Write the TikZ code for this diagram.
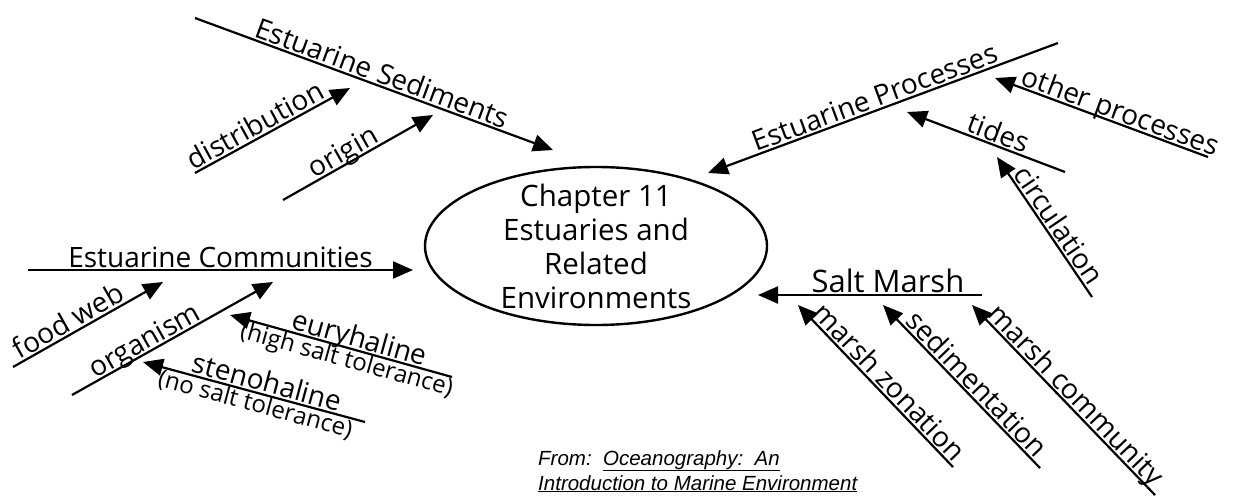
\documentclass[tikz,border=0pt]{standalone}
\usepackage{fontspec}
\setmainfont{Open Sans}
\newfontfamily\footfont{Liberation Sans}
\usetikzlibrary{arrows.meta,shapes.geometric}
\begin{document}
\begin{tikzpicture}[x=1pt,y=-1pt,
  conn/.style={line width=2.2pt},
  arr/.style={conn,-{Triangle[length=20pt,width=17pt]}},
  rarr/.style={conn,{Triangle[length=20pt,width=17pt]}-},
  lab/.style={font=\fontsize{28}{32}\selectfont, sloped, above, inner xsep=0pt, inner ysep=3pt, text depth=0pt, outer sep=0pt},
  sub/.style={font=\fontsize{24}{28}\selectfont, sloped, below, inner xsep=0pt, inner ysep=1pt, outer sep=0pt},
  foot/.style={font=\footfont\itshape\fontsize{20.5}{24}\selectfont, anchor=base west, inner sep=0pt},
]
\path[use as bounding box] (0,0) rectangle (1236,498);

% central topic
\node[draw, ellipse, line width=2.4pt, minimum width=342pt, minimum height=158pt, inner sep=0pt] (core) at (596,246) {};
\node[font=\fontsize{29.5}{34}\selectfont, align=center] (title) at (596,246) {Chapter 11\\Estuaries and\\Related\\Environments};

% Estuarine Sediments
\coordinate (sedS) at (195,18);   \coordinate (sedT) at (553,150);
\draw[arr] (sedS) -- node[lab,pos=0.51] (lsed) {Estuarine Sediments} (sedT);
\coordinate (disS) at (195,173);  \coordinate (disT) at (350,88);
\draw[arr] (disS) -- node[lab,pos=0.43] (ldis) {distribution} (disT);
\coordinate (oriS) at (283,200);  \coordinate (oriT) at (433,115);
\draw[arr] (oriS) -- node[lab,pos=0.44] (lori) {origin} (oriT);

% Estuarine Processes
\coordinate (proT) at (708,173);  \coordinate (proS) at (1058,43);
\draw[rarr] (proT) -- node[lab,pos=0.49] (lpro) {Estuarine Processes} (proS);
\coordinate (othT) at (995,78);   \coordinate (othS) at (1208,157);
\draw[rarr] (othT) -- node[lab,pos=0.57] (loth) {other processes} (othS);
\coordinate (tidT) at (907,112);  \coordinate (tidS) at (1065,172);
\draw[rarr] (tidT) -- node[lab,pos=0.55] (ltid) {tides} (tidS);
\coordinate (cirT) at (997,157);  \coordinate (cirS) at (1092,297);
\draw[rarr] (cirT) -- node[lab,pos=0.54] (lcir) {circulation} (cirS);

% Estuarine Communities
\coordinate (comS) at (28,270);   \coordinate (comT) at (413,270);
\draw[arr] (comS) -- node[lab,pos=0.5] (lcom) {Estuarine Communities} (comT);
\coordinate (fooS) at (13,367);   \coordinate (fooT) at (163,282);
\draw[arr] (fooS) -- node[lab,pos=0.41] (lfoo) {food web} (fooT);
\coordinate (orgS) at (72,395);   \coordinate (orgT) at (273,282);
\draw[arr] (orgS) -- node[lab,pos=0.39] (lorg) {organism} (orgT);
\coordinate (eurT) at (230,315);  \coordinate (eurS) at (452,377);
\draw[rarr] (eurT) -- node[lab,pos=0.57] (leur) {euryhaline} node[sub,pos=0.54] (leur2) {(high salt tolerance)} (eurS);
\coordinate (steT) at (143,362);  \coordinate (steS) at (365,422);
\draw[rarr] (steT) -- node[lab,pos=0.545] (lste) {stenohaline} node[sub,pos=0.52] (lste2) {(no salt tolerance)} (steS);

% Salt Marsh
\coordinate (salT) at (758,295);  \coordinate (salS) at (982,295);
\draw[rarr] (salT) -- node[lab,pos=0.58,font=\fontsize{31}{34}\selectfont] (lsal) {Salt Marsh} (salS);
\coordinate (zonT) at (798,305);  \coordinate (zonS) at (953,467);
\draw[rarr] (zonT) -- node[lab,pos=0.53] (lzon) {marsh zonation} (zonS);
\coordinate (sdmT) at (883,305);  \coordinate (sdmS) at (1040,468);
\draw[rarr] (sdmT) -- node[lab,pos=0.54] (lsdm) {sedimentation} (sdmS);
\coordinate (mcoT) at (972,305);  \coordinate (mcoS) at (1155,495);
\draw[rarr] (mcoT) -- node[lab,pos=0.52] (lmco) {marsh community} (mcoS);

% source
\node[foot] (from) at (538,465) {From:\ \ \underline{Oceanography:\ \ An}};
\node[foot] (from2) at (538,490) {\underline{Introduction to Marine Environment}};
\end{tikzpicture}
\end{document}
